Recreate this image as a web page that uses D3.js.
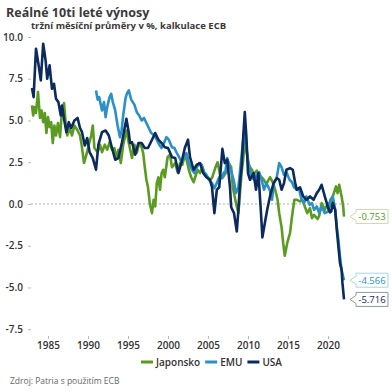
<!DOCTYPE html>
<html>
<head>
<meta charset="utf-8">
<script src="https://cdn.jsdelivr.net/npm/d3@7"></script>
<style>
  body { margin: 0; background: #fff; }
  text { font-family: "Open Sans", "Noto Sans", sans-serif; }
</style>
</head>
<body>
<div id="chart"></div>
<script>
// real 10y yields, [year, value in %]
const japan = [
  [1983.0, 5.9], [1983.15, 5.3], [1983.3, 5.8], [1983.5, 5.45], [1983.75, 6.7], [1984.0, 5.15],
  [1984.2, 5.6], [1984.4, 4.9], [1984.6, 5.45], [1984.8, 4.25], [1985.0, 5.2], [1985.2, 4.6],
  [1985.4, 4.9], [1985.6, 3.65], [1985.8, 4.7], [1986.0, 4.1], [1986.25, 4.85], [1986.5, 4.0],
  [1986.7, 5.3], [1987.0, 6.05], [1987.2, 4.9], [1987.4, 4.1], [1987.7, 4.55], [1988.0, 4.1],
  [1988.3, 4.7], [1988.7, 4.4], [1989.0, 4.1], [1989.2, 3.55], [1989.5, 2.45], [1989.8, 2.95],
  [1990.1, 3.55], [1990.4, 4.1], [1990.6, 4.7], [1990.8, 3.35], [1991.2, 3.1], [1991.5, 3.55],
  [1991.75, 3.1], [1992.1, 3.55], [1992.4, 3.25], [1992.7, 3.7], [1993.0, 3.25], [1993.3, 3.35],
  [1993.5, 2.75], [1993.8, 3.25], [1994.1, 2.45], [1994.4, 3.55], [1994.8, 4.4], [1995.1, 3.65],
  [1995.5, 2.75], [1995.8, 3.55], [1996.1, 3.05], [1996.4, 3.65], [1996.7, 3.4], [1996.9, 3.05],
  [1997.1, 2.2], [1997.3, 1.45], [1997.5, 1.0], [1997.75, -0.05], [1998.0, -0.55], [1998.2, 0.25],
  [1998.4, -0.15], [1998.6, 1.25], [1998.8, 1.6], [1999.0, 0.85], [1999.2, 1.85], [1999.4, 2.05],
  [1999.6, 1.6], [1999.95, 2.8], [2000.25, 2.95], [2000.5, 2.2], [2000.9, 2.45], [2001.2, 1.9],
  [2001.5, 2.45], [2001.8, 2.35], [2002.1, 2.95], [2002.4, 2.5], [2002.6, 2.05], [2002.9, 1.6],
  [2003.2, 1.3], [2003.5, 1.75], [2003.7, 2.05], [2004.0, 1.85], [2004.3, 2.2], [2004.6, 1.75],
  [2005.0, 1.6], [2005.25, 1.45], [2005.5, 1.55], [2005.9, 2.15], [2006.2, 2.5], [2006.5, 1.75],
  [2006.8, 1.55], [2007.0, 1.7], [2007.3, 1.9], [2007.6, 2.45], [2007.9, 2.2], [2008.1, 1.0],
  [2008.5, 0.05], [2008.8, -0.55], [2009.0, 0.65], [2009.2, 1.85], [2009.4, 2.65], [2009.6, 3.75],
  [2009.8, 3.4], [2010.0, 2.5], [2010.25, 2.2], [2010.5, 2.05], [2010.7, 1.75], [2011.1, 2.0],
  [2011.5, 1.7], [2011.9, 1.5], [2012.3, 1.2], [2012.75, 1.6], [2013.1, 1.3], [2013.4, 0.85],
  [2013.7, 0.25], [2013.9, -0.55], [2014.2, -1.4], [2014.4, -2.35], [2014.6, -3.1], [2014.9, -2.35],
  [2015.25, -1.75], [2015.45, -0.95], [2015.6, -0.4], [2015.8, 0.25], [2016.1, 0.25], [2016.5, 0.15],
  [2016.8, 0.25], [2017.1, -0.15], [2017.4, -0.55], [2017.75, -0.25], [2018.0, -0.85], [2018.25, -0.65],
  [2018.7, -0.9], [2018.9, -0.7], [2019.2, 0.05], [2019.6, -0.35], [2020.0, 0.05], [2020.4, -0.15],
  [2020.6, 0.45], [2021.0, 1.05], [2021.2, 0.65], [2021.4, 1.15], [2021.7, 0.45], [2021.9, -0.15],
  [2022.0, -0.753]
];

const emu = [
  [1991.0, 6.8], [1991.2, 6.25], [1991.4, 6.4], [1991.75, 5.6], [1992.0, 6.1], [1992.2, 5.2],
  [1992.4, 5.8], [1992.7, 6.4], [1992.9, 6.6], [1993.1, 6.1], [1993.4, 5.6], [1993.7, 4.7],
  [1994.0, 4.0], [1994.2, 4.4], [1994.4, 5.3], [1994.7, 6.35], [1994.9, 6.65], [1995.1, 6.8],
  [1995.4, 6.25], [1995.8, 5.95], [1996.1, 5.5], [1996.4, 5.3], [1996.7, 5.0], [1997.0, 5.15],
  [1997.3, 4.85], [1997.6, 4.55], [1997.9, 4.25], [1998.3, 4.1], [1998.6, 3.85], [1998.9, 3.55],
  [1999.2, 3.35], [1999.5, 3.65], [1999.8, 4.0], [2000.1, 3.85], [2000.5, 3.4], [2000.8, 3.35],
  [2001.1, 3.05], [2001.4, 2.8], [2001.7, 2.5], [2002.0, 2.8], [2002.3, 3.05], [2002.6, 2.45],
  [2003.0, 2.05], [2003.3, 1.85], [2003.6, 2.2], [2003.9, 2.45], [2004.2, 2.35], [2004.5, 1.9],
  [2004.8, 1.75], [2005.1, 1.45], [2005.5, 1.25], [2005.8, 0.95], [2006.1, 1.25], [2006.4, 1.6],
  [2006.7, 1.55], [2007.0, 1.9], [2007.15, 1.85], [2007.4, 2.75], [2007.75, 2.2], [2008.2, 1.45],
  [2008.5, 0.65], [2008.8, 1.0], [2009.1, 2.45], [2009.4, 3.85], [2009.6, 4.4], [2009.8, 3.25],
  [2010.2, 2.05], [2010.5, 1.6], [2010.75, 1.45], [2011.1, 1.75], [2011.4, 1.9], [2011.7, 1.45],
  [2012.0, 0.85], [2012.3, 1.25], [2012.7, 0.85], [2013.0, 0.25], [2013.25, 1.25], [2013.6, 1.6],
  [2013.9, 2.45], [2014.2, 2.2], [2014.5, 1.75], [2014.8, 1.9], [2015.2, 1.45], [2015.5, 1.3],
  [2015.75, 1.0], [2016.1, 0.85], [2016.4, 0.85], [2016.7, 0.25], [2017.0, 0.05], [2017.3, 0.45],
  [2017.7, -0.05], [2018.0, 0.05], [2018.25, -0.35], [2018.6, -0.15], [2018.9, -0.55], [2019.2, -0.15],
  [2019.6, -0.55], [2020.0, -0.45], [2020.3, 0.25], [2020.6, 0.45], [2020.9, -0.35], [2021.1, -1.35],
  [2021.3, -2.15], [2021.5, -3.15], [2021.7, -3.95], [2022.0, -4.566]
];

const usa = [
  [1983.0, 6.95], [1983.2, 6.4], [1983.5, 9.3], [1983.8, 8.4], [1984.1, 7.4], [1984.4, 9.6],
  [1984.7, 8.6], [1984.9, 7.5], [1985.2, 8.3], [1985.5, 6.9], [1985.75, 7.2], [1986.0, 6.3],
  [1986.3, 6.1], [1986.6, 5.3], [1986.75, 5.9], [1987.0, 5.1], [1987.3, 4.3], [1987.6, 4.9],
  [1987.9, 4.55], [1988.3, 5.0], [1988.7, 5.15], [1989.0, 4.55], [1989.25, 4.3], [1989.6, 3.5],
  [1989.9, 3.95], [1990.2, 3.1], [1990.6, 2.75], [1991.0, 2.05], [1991.3, 3.55], [1991.75, 4.3],
  [1992.2, 4.4], [1992.6, 4.1], [1993.0, 3.35], [1993.4, 2.65], [1993.8, 2.75], [1994.25, 3.7],
  [1994.8, 5.1], [1995.1, 4.25], [1995.25, 3.65], [1995.5, 3.7], [1995.9, 2.95], [1996.3, 3.65],
  [1996.7, 3.65], [1997.1, 3.35], [1997.5, 3.35], [1998.0, 3.85], [1998.4, 4.25], [1998.8, 3.85],
  [1999.2, 3.65], [1999.6, 3.4], [2000.0, 3.35], [2000.5, 2.8], [2000.9, 2.75], [2001.3, 1.85],
  [2001.7, 2.5], [2002.1, 3.35], [2002.5, 3.85], [2002.75, 2.8], [2003.2, 2.05], [2003.6, 2.35],
  [2004.0, 2.45], [2004.4, 1.85], [2004.8, 1.6], [2005.25, 1.45], [2005.5, 1.0], [2005.8, -0.55],
  [2006.1, 0.85], [2006.4, 1.0], [2006.8, 3.3], [2007.1, 2.45], [2007.4, 2.65], [2007.75, 1.0],
  [2007.9, -0.2], [2008.25, -0.55], [2008.6, -1.65], [2008.8, -0.35], [2009.0, 1.25], [2009.2, 2.2],
  [2009.4, 4.0], [2009.6, 5.5], [2009.8, 4.0], [2010.0, 1.85], [2010.25, 1.45], [2010.7, 1.85],
  [2011.0, 0.85], [2011.3, 1.85], [2011.6, -0.35], [2011.8, -2.0], [2012.1, -1.15], [2012.4, -0.35],
  [2012.75, 0.45], [2013.2, 1.25], [2013.6, 1.55], [2013.9, 1.45], [2014.2, 0.85], [2014.5, 1.25],
  [2014.8, 2.05], [2015.25, 2.15], [2015.6, 2.05], [2015.9, 1.25], [2016.1, 0.85], [2016.5, 1.0],
  [2016.9, 0.45], [2017.3, 0.25], [2017.75, 0.45], [2018.2, 0.25], [2018.6, 0.65], [2018.9, 0.85],
  [2019.2, 1.15], [2019.6, 0.45], [2020.0, -0.2], [2020.25, -0.5], [2020.4, -0.45], [2020.6, 0.05],
  [2020.9, -0.35], [2021.1, -1.55], [2021.3, -2.55], [2021.5, -3.55], [2021.7, -3.95], [2021.8, -4.7],
  [2022.0, -5.716]
];

const seriesNames = ["Japonsko", "EMU", "USA"];
const seriesColors = ["#5b9b21", "#2a90c6", "#0c2a5e"];
const labelBorders = ["#c9dcae", "#a9d3ea", "#8d98ad"];
const yTicks = [-7.5, -5, -2.5, 0, 2.5, 5, 7.5, 10];
const xTicks = [1985, 1990, 1995, 2000, 2005, 2010, 2015, 2020];

const width = 392, height = 392;

const svg = d3.select("#chart").append("svg")
  .attr("width", width)
  .attr("height", height);

const x = d3.scaleLinear().domain([1982.5, 2022.5]).range([28, 348]);
const y = d3.scaleLinear().domain([-7.5, 10]).range([329.2, 37]);

// title
svg.append("text")
  .attr("x", 6).attr("y", 17)
  .style("font-size", "12.5px").style("font-weight", 700).attr("fill", "#3a3a3a")
  .text("Reálné 10ti leté výnosy");
svg.append("text")
  .attr("x", 31).attr("y", 29)
  .style("font-size", "9.5px").style("font-weight", 700).attr("fill", "#3a3a3a")
  .text("tržní měsíční průměry v %, kalkulace ECB");

// y axis
const yAxis = svg.append("g")
  .attr("transform", "translate(31,0)")
  .call(d3.axisLeft(y).tickValues(yTicks).tickFormat(d => d.toFixed(1)).tickSize(3).tickPadding(5));
yAxis.select(".domain").remove();
yAxis.selectAll("line").attr("stroke", "#bbb");
yAxis.selectAll("text")
  .style("font-size", "10px").style("font-weight", 600).attr("fill", "#333")
  .style("font-family", "'Open Sans', sans-serif");

// x axis
const xAxis = svg.append("g")
  .attr("transform", "translate(0,336)")
  .call(d3.axisBottom(x).tickValues(xTicks).tickFormat(d3.format("d")).tickSize(3).tickPadding(3));
xAxis.select(".domain").remove();
xAxis.selectAll("line").attr("stroke", "#bbb");
xAxis.selectAll("text")
  .style("font-size", "10px").style("font-weight", 600).attr("fill", "#333")
  .style("font-family", "'Open Sans', sans-serif");

// zero line
svg.append("line")
  .attr("x1", 31).attr("x2", 350)
  .attr("y1", y(0)).attr("y2", y(0))
  .attr("stroke", "#999").attr("stroke-width", 0.8)
  .attr("stroke-dasharray", "2,2");

const line = d3.line()
  .x(d => x(d[0]))
  .y(d => y(d[1]));

const allSeries = [japan, emu, usa];
allSeries.forEach((s, i) => {
  svg.append("path")
    .datum(s)
    .attr("fill", "none")
    .attr("stroke", seriesColors[i])
    .attr("stroke-width", 2.6)
    .attr("stroke-linejoin", "round")
    .attr("d", line);
});

// last value labels
allSeries.forEach((s, i) => {
  const last = s[s.length - 1];
  const ly = y(last[1]);
  const bx = 356, bw = 32, bh = 14;
  const g = svg.append("g");
  g.append("path")
    .attr("d", `M${bx - 6},${ly} L${bx},${ly - 4} L${bx},${ly - bh / 2} L${bx + bw},${ly - bh / 2} L${bx + bw},${ly + bh / 2} L${bx},${ly + bh / 2} L${bx},${ly + 4} Z`)
    .attr("fill", "#fff")
    .attr("stroke", labelBorders[i])
    .attr("stroke-width", 1);
  g.append("text")
    .attr("x", bx + bw / 2).attr("y", ly + 3.5)
    .attr("text-anchor", "middle")
    .style("font-size", "9.5px")
    .attr("fill", seriesColors[i])
    .text(last[1].toFixed(3));
});

// legend
const legend = svg.append("g").attr("transform", "translate(141,362)");
let lx = 0;
seriesNames.forEach((name, i) => {
  legend.append("line")
    .attr("x1", lx).attr("x2", lx + 12)
    .attr("y1", 0).attr("y2", 0)
    .attr("stroke", seriesColors[i]).attr("stroke-width", 3);
  const t = legend.append("text")
    .attr("x", lx + 15).attr("y", 3.5)
    .style("font-size", "10px").style("font-weight", 600).attr("fill", "#333")
    .text(name);
  lx += 15 + t.node().getComputedTextLength() + 5;
});

// source
svg.append("text")
  .attr("x", 10).attr("y", 384)
  .style("font-size", "8.5px").attr("fill", "#666")
  .text("Zdroj: Patria s použitím ECB");
</script>
</body>
</html>
